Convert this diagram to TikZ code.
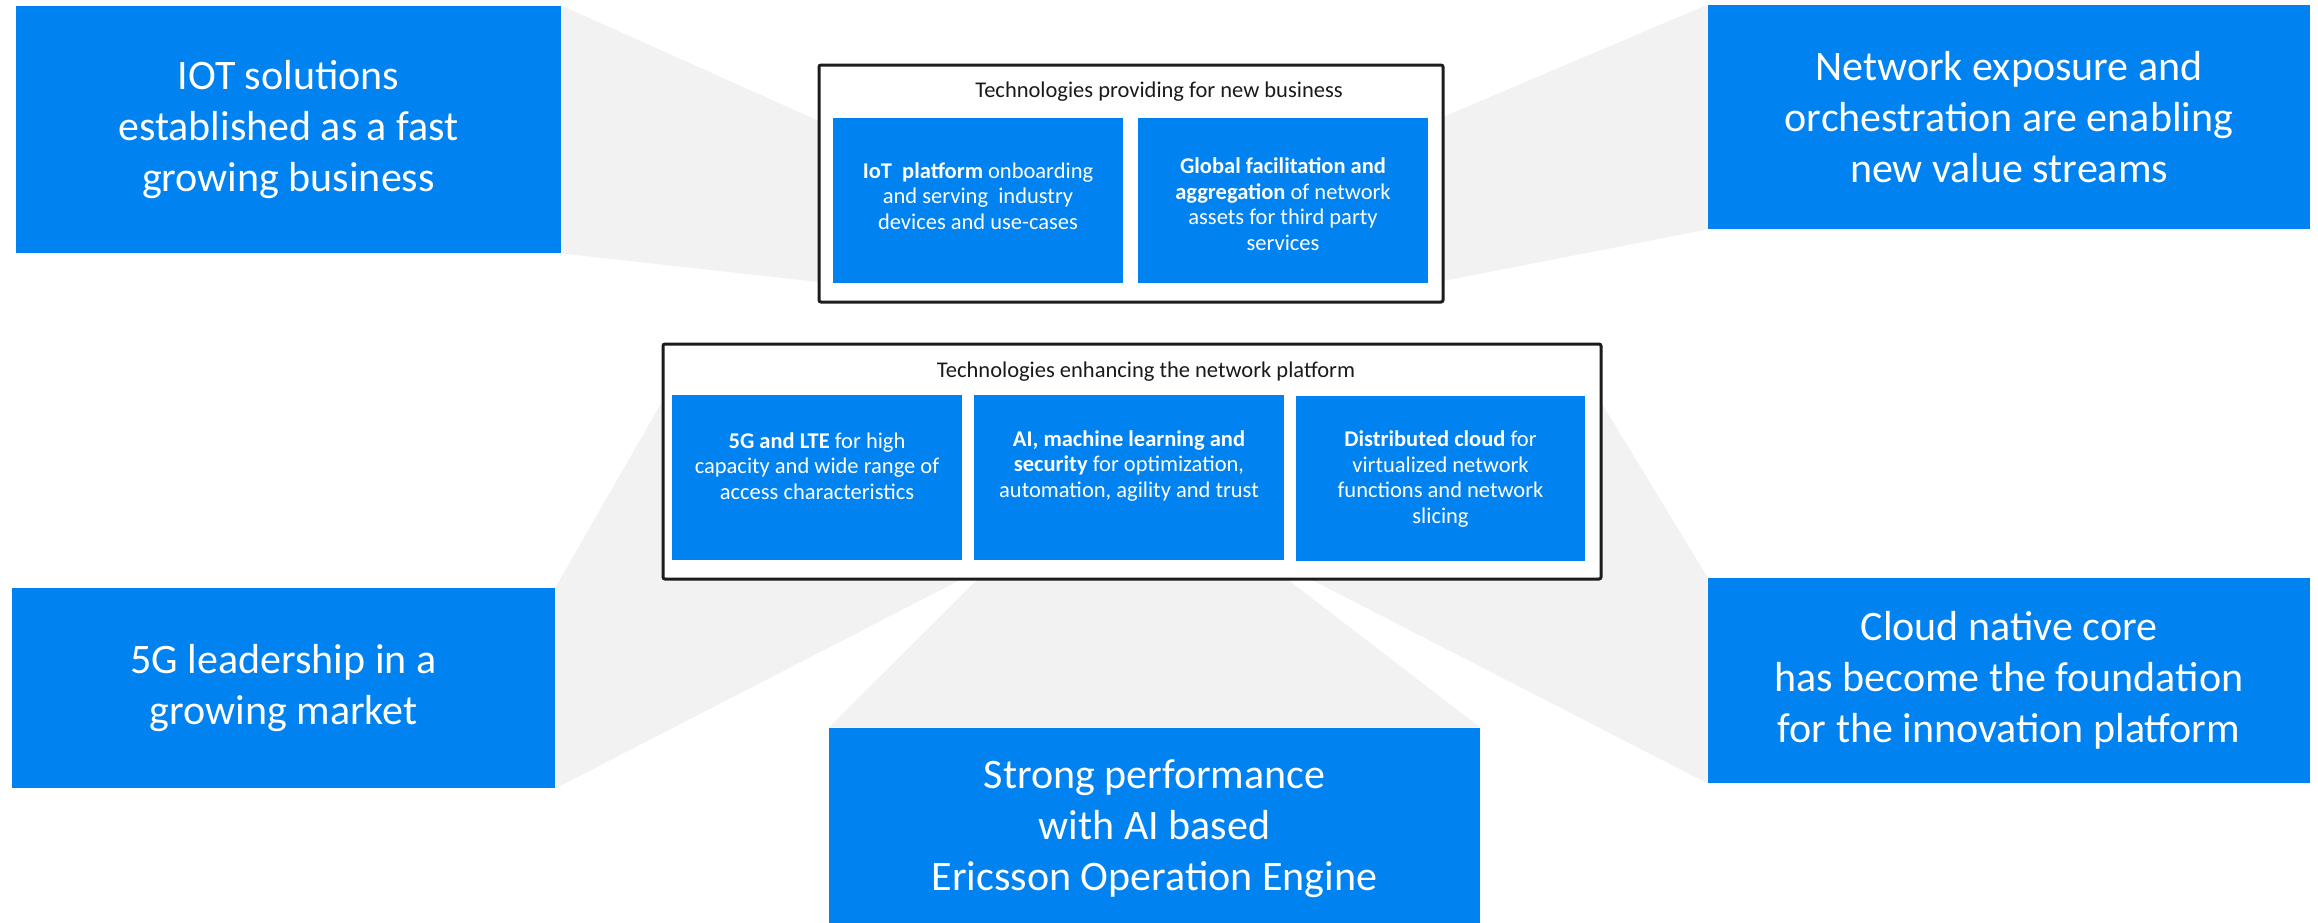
\documentclass[tikz,border=0pt]{standalone}
\usepackage{fontspec}
\setmainfont{Carlito}
\usetikzlibrary{backgrounds}
\definecolor{ebl}{HTML}{0082F0}
\definecolor{wedgegray}{HTML}{F2F2F2}
\definecolor{framecol}{HTML}{1C1C1C}
\definecolor{titlecol}{HTML}{1A1A1A}
\tikzset{
  bigbox/.style={fill=ebl, text=white, align=center, inner sep=0pt,
    font=\fontsize{21}{25.5}\selectfont},
  innerbox/.style={fill=ebl, inner sep=0pt},
  innertext/.style={text=white, align=center, inner sep=0pt,
    font=\fontsize{11.25}{12.75}\selectfont},
  framebox/.style={draw=framecol, fill=white, line width=1.5pt, rounded corners=1pt, inner sep=0pt},
  titletext/.style={text=titlecol, inner sep=0pt, font=\fontsize{11.25}{12.75}\selectfont},
  wedge/.style={fill=wedgegray}
}
\begin{document}
\begin{tikzpicture}[x=0.5pt,y=-0.5pt]
\useasboundingbox (0,0) rectangle (2318,922);

% outer frames
\node[framebox, minimum width=312pt, minimum height=118.5pt] (topframe) at (1131,183.5) {};
\node[framebox, minimum width=469pt, minimum height=117.5pt] (midframe) at (1132,461.5) {};

% big statement boxes
\node[bigbox, minimum width=272.5pt, minimum height=123.5pt] (iot) at (288.5,129.5)
  {IOT solutions\\established as a fast\\growing business};
\node[bigbox, minimum width=301pt, minimum height=112pt] (expo) at (2009,117)
  {Network exposure and\\orchestration are enabling\\new value streams};
\node[bigbox, minimum width=271.5pt, minimum height=100pt] (lead) at (283.5,688)
  {5G leadership in a\\growing market};
\node[bigbox, minimum width=301pt, minimum height=102.5pt] (cloud) at (2009,680.5)
  {Cloud native core\\has become the foundation\\for the innovation platform};
\node[bigbox, minimum width=325.5pt, minimum height=101pt] (perf) at (1154.5,829)
  {Strong performance\\with AI based\\Ericsson Operation Engine};

% titles
\node[titletext] (toptitle) at (1159,92) {Technologies providing for new business};
\node[titletext] (midtitle) at (1146,372) {Technologies enhancing the network platform};

% inner boxes, top row
\node[innerbox, minimum width=145pt, minimum height=82.5pt] (iotp) at (978,200.5) {};
\node[innerbox, minimum width=145pt, minimum height=82.5pt] (glob) at (1283,200.5) {};
\node[innertext] (iotptext) at (978,196)
  {\textbf{IoT~ platform} onboarding\\and serving~ industry\\devices and use-cases};
\node[innertext] (globtext) at (1283,204)
  {\textbf{Global facilitation and}\\\textbf{aggregation} of network\\assets for third party\\services};

% inner boxes, middle row
\node[innerbox, minimum width=145pt, minimum height=82.5pt] (fiveg) at (817,477.5) {};
\node[innerbox, minimum width=155pt, minimum height=82.5pt] (ai) at (1129,477.5) {};
\node[innerbox, minimum width=144.5pt, minimum height=82.5pt] (dist) at (1440.5,478.5) {};
\node[innertext] (fivegtext) at (817,466)
  {\textbf{5G and LTE} for high\\capacity and wide range of\\access characteristics};
\node[innertext] (aitext) at (1129,466)
  {\textbf{AI, machine learning and}\\\textbf{security} for optimization,\\automation, agility and trust};
\node[innertext] (disttext) at (1440.5,479)
  {\textbf{Distributed cloud} for\\virtualized network\\functions and network\\slicing};

% gray wedges behind
\begin{pgfonlayer}{background}
\fill[wedge] (iot.north east) -- (819,121) -- (819,282) -- (iot.south east) -- cycle;
\fill[wedge] (1443,117) -- (expo.north west) -- (expo.south west) -- (1443,281) -- cycle;
\fill[wedge] (lead.north east) -- (663,400) -- (960,580) -- (lead.south east) -- cycle;
\fill[wedge] (978,579) -- (1287,579) -- (perf.north east) -- (perf.north west) -- cycle;
\fill[wedge] (1601,402) -- (cloud.north west) -- (cloud.south west) -- (1310,579) -- cycle;
\end{pgfonlayer}
\end{tikzpicture}
\end{document}
